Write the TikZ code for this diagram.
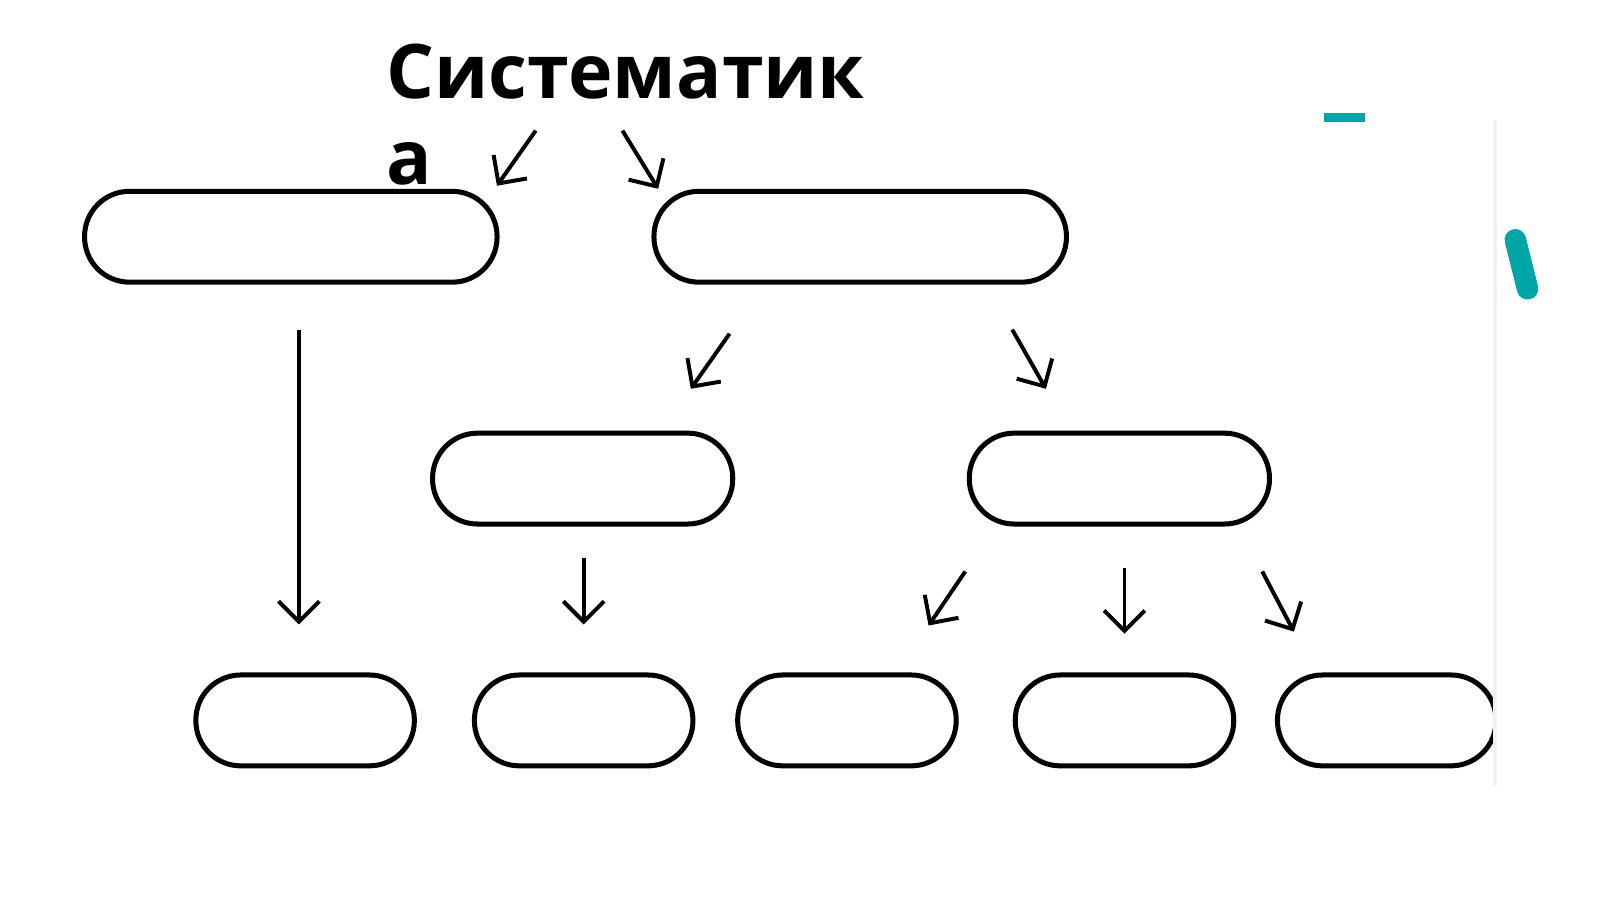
\documentclass[tikz,border=0pt]{standalone}
\usepackage{fontspec}
\setmainfont{Open Sans}
\usetikzlibrary{arrows.meta, positioning}
\tikzset{
  pill/.style={draw, line width=1.4pt, rounded corners=0.44cm, minimum height=0.89cm, inner sep=0pt},
  wide/.style={pill, minimum width=4.04cm},
  mid/.style={pill, minimum width=2.94cm},
  small/.style={pill, minimum width=2.14cm},
  arr/.style={line width=1.1pt, -{Straight Barb[length=2mm, width=4mm, line width=1.1pt]}}
}
\begin{document}
\begin{tikzpicture}[x=0.01cm, y=-0.01cm]
  % title
  \node[anchor=north west, inner sep=0pt, align=left, font=\bfseries\fontsize{21pt}{24pt}\selectfont] (title) at (378,42) {Систематик\\а};

  % boxes
  \node[wide] (top1) at (285,232) {};
  \node[wide] (top2) at (843,232) {};
  \node[mid] (mid1) at (571,469) {};
  \node[mid] (mid2) at (1097,469) {};
  \node[small] (bot1) at (299,706) {};
  \node[small] (bot2) at (572,706) {};
  \node[small] (bot3) at (830,706) {};
  \node[small] (bot4) at (1102,706) {};
  \node[small] (bot5) at (1359,706) {};

  % arrows
  \coordinate (a1s) at (525,128); \coordinate (a1e) at (487,182);
  \coordinate (a2s) at (610,128); \coordinate (a2e) at (645,185);
  \coordinate (a3s) at (293,323); \coordinate (a3e) at (293,612);
  \coordinate (a4s) at (715,327); \coordinate (a4e) at (677,381);
  \coordinate (a5s) at (992,323); \coordinate (a5e) at (1025,381);
  \coordinate (a6s) at (572,547); \coordinate (a6e) at (572,612);
  \coordinate (a7s) at (946,560); \coordinate (a7e) at (910,613);
  \coordinate (a8s) at (1102,557); \coordinate (a8e) at (1102,621);
  \coordinate (a9s) at (1237,560); \coordinate (a9e) at (1268,619);
  \foreach \i in {1,...,9} \draw[arr] (a\i s) -- (a\i e);

  % edge marks
  \fill[white] (1466,110) rectangle (1600,899);
  \draw[black!6, line width=1pt] (1465,118) -- (1465,770);
  \draw[teal!70!cyan, line width=2.5pt] (1298,115) -- (1338,115);
  \draw[teal!70!cyan, line width=6pt, line cap=round] (1485,235) -- (1497,283);

  \pgfresetboundingbox
  \useasboundingbox (0,0) rectangle (1568,881);
\end{tikzpicture}
\end{document}
